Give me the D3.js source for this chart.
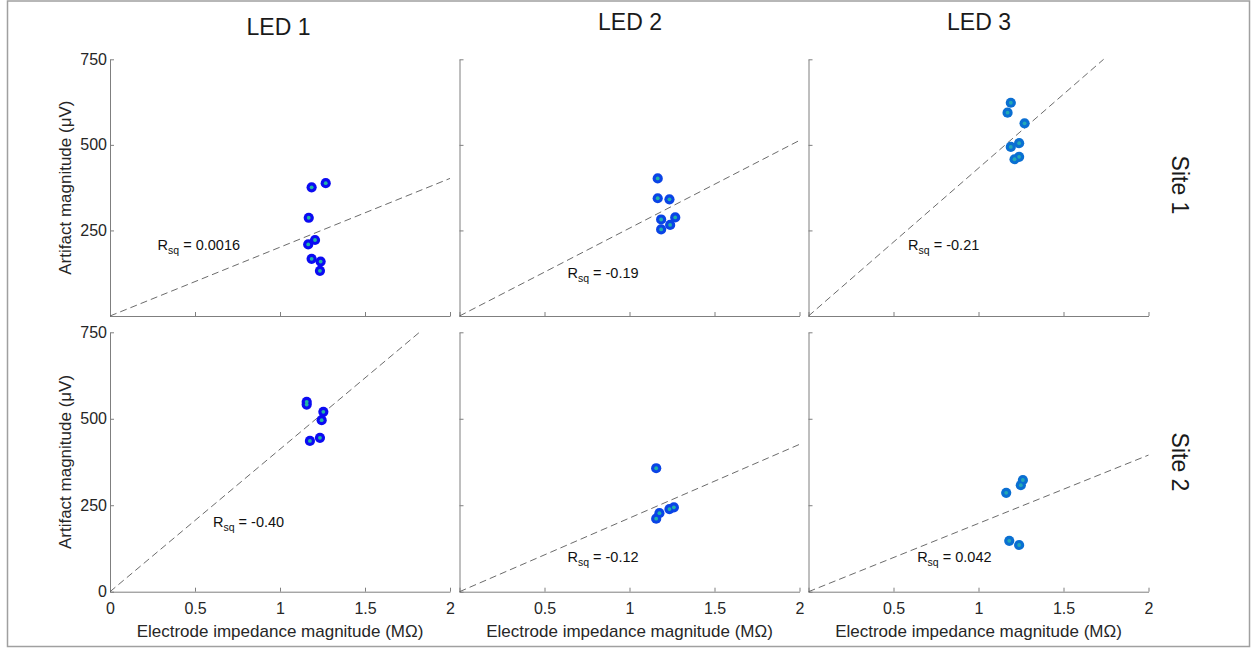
<!DOCTYPE html>
<html>
<head>
<meta charset="utf-8">
<script src="https://cdn.jsdelivr.net/npm/d3@7/dist/d3.min.js"></script>
<style>
  html, body { margin: 0; padding: 0; background: #fff; }
  svg { display: block; font-family: "Liberation Sans", Arial, sans-serif; }
</style>
</head>
<body>
<svg id="chart" width="1251" height="648"></svg>
<script>
// ---- Data ----
const ledNames = ["LED 1", "LED 2", "LED 3"];
const siteNames = ["Site 1", "Site 2"];
const xTicks = [0, 0.5, 1, 1.5, 2];
const yTicks = [0, 250, 500, 750];

// Site 1
const s1Led1Imp = [1.186, 1.269, 1.169, 1.206, 1.166, 1.186, 1.239, 1.235];
const s1Led1Art = [376, 388, 287, 222, 209, 167, 159, 132];
const s1Led2Imp = [1.166, 1.166, 1.235, 1.186, 1.269, 1.239, 1.186];
const s1Led2Art = [402, 344, 341, 282, 288, 266, 253];
const s1Led3Imp = [1.190, 1.171, 1.271, 1.239, 1.190, 1.239, 1.212];
const s1Led3Art = [623, 594, 563, 505, 494, 465, 458];
// Site 2
const s2Led1Imp = [1.157, 1.157, 1.255, 1.245, 1.235, 1.176];
const s2Led1Art = [549, 541, 520, 496, 445, 436];
const s2Led2Imp = [1.157, 1.176, 1.157, 1.235, 1.261];
const s2Led2Art = [357, 227, 211, 239, 244];
const s2Led3Imp = [1.261, 1.249, 1.163, 1.181, 1.239];
const s2Led3Art = [323, 308, 286, 147, 135];

// Fit through origin: slope (µV per MΩ)
const site1Slopes = [201, 256.5, 432];
const site2Slopes = [412, 213, 197.5];
const site1Rsq = ["0.0016", "-0.19", "-0.21"];
const site2Rsq = ["-0.40", "-0.12", "0.042"];
// Annotation anchors in data units [impedance, artifact]
const site1RsqAt = [[0.28, 193], [0.635, 111], [0.586, 193]];
const site2RsqAt = [[0.606, 187], [0.635, 86], [0.639, 86]];

// ---- Layout ----
const svg = d3.select("#chart");
const colX = [110, 459.5, 808.5];
const panelW = 340;
const rowTop = [59.3, 332.3];
const rowBot = [316, 591.7];
const ringColors = ["#0b0bf2", "#0a44e6", "#0a6fd2"];
const coreColors = ["#1fb5a5", "#1fb2a8", "#23a8b5"];
const textColor = "#262626";
const axisColor = "#7f7f7f";

// outer frame
svg.append("rect").attr("x", 7.5).attr("y", 1).attr("width", 1242).attr("height", 645.5)
  .attr("fill", "none").attr("stroke", "#a0a0a0").attr("stroke-width", 1.5);

const panels = [
  [ {imp: s1Led1Imp, art: s1Led1Art}, {imp: s1Led2Imp, art: s1Led2Art}, {imp: s1Led3Imp, art: s1Led3Art} ],
  [ {imp: s2Led1Imp, art: s2Led1Art}, {imp: s2Led2Imp, art: s2Led2Art}, {imp: s2Led3Imp, art: s2Led3Art} ]
];
const slopes = [site1Slopes, site2Slopes];
const rsq = [site1Rsq, site2Rsq];
const rsqAt = [site1RsqAt, site2RsqAt];

panels.forEach((row, r) => {
  row.forEach((p, c) => {
    const x = d3.scaleLinear().domain([0, 2]).range([colX[c], colX[c] + panelW]);
    const y = d3.scaleLinear().domain([0, 750]).range([rowBot[r], rowTop[r]]);
    const g = svg.append("g");

    // axes
    const xAxis = d3.axisBottom(x).tickValues(xTicks).tickSizeInner(-4).tickSizeOuter(0).tickPadding(11)
      .tickFormat(d => (r === 1 && !(c > 0 && d === 0)) ? d3.format("~g")(d) : "");
    const yAxis = d3.axisLeft(y).tickValues(yTicks).tickSizeInner(-4).tickSizeOuter(0).tickPadding(3)
      .tickFormat(d => (c === 0 && !(r === 0 && d === 0)) ? d : "");

    const gx = g.append("g").attr("transform", `translate(0,${rowBot[r]})`).call(xAxis);
    const gy = g.append("g").attr("transform", `translate(${colX[c]},0)`).call(yAxis);
    [gx, gy].forEach(a => {
      a.select(".domain").attr("stroke", axisColor);
      a.selectAll(".tick line").attr("stroke", axisColor);
      a.selectAll(".tick text").attr("fill", textColor).style("font-size", "16px");
    });

    // regression line through origin
    const s = slopes[r][c];
    const xEnd = Math.min(2, 750 / s);
    g.append("line")
      .attr("x1", x(0)).attr("y1", y(0))
      .attr("x2", x(xEnd)).attr("y2", y(s * xEnd))
      .attr("stroke", "#5a5a5a").attr("stroke-width", 0.9).attr("stroke-dasharray", "7,4");

    // points
    const pts = p.imp.map((v, i) => [v, p.art[i]]);
    g.selectAll("circle.ring").data(pts).join("circle").attr("class", "ring")
      .attr("cx", d => x(d[0])).attr("cy", d => y(d[1])).attr("r", 5.1)
      .attr("fill", ringColors[c]);
    g.selectAll("circle.core").data(pts).join("circle").attr("class", "core")
      .attr("cx", d => x(d[0])).attr("cy", d => y(d[1])).attr("r", 1.9)
      .attr("fill", coreColors[c]);

    // Rsq annotation
    const at = rsqAt[r][c];
    const t = g.append("text").attr("x", x(at[0])).attr("y", y(at[1]))
      .attr("fill", "#111").style("font-size", "14.5px");
    t.append("tspan").text("R");
    t.append("tspan").attr("dy", 4).style("font-size", "10.5px").text("sq");
    t.append("tspan").attr("dy", -4).text(" = " + rsq[r][c]);

    // x axis title
    if (r === 1) {
      g.append("text").attr("x", x(1)).attr("y", 637).attr("text-anchor", "middle")
        .attr("fill", textColor).style("font-size", "17px")
        .text("Electrode impedance magnitude (MΩ)");
    }
    // y axis title
    if (c === 0) {
      const cy = (rowTop[r] + rowBot[r]) / 2;
      g.append("text").attr("transform", `translate(71,${cy}) rotate(-90)`)
        .attr("text-anchor", "middle").attr("fill", textColor).style("font-size", "17px")
        .text("Artifact magnitude (μV)");
    }
  });
});

// column titles
const titleX = [278.5, 630, 979];
const titleY = [35, 30, 30];
ledNames.forEach((n, i) => {
  svg.append("text").attr("x", titleX[i]).attr("y", titleY[i]).attr("text-anchor", "middle")
    .attr("fill", "#1a1a1a").style("font-size", "23px").text(n);
});
// row titles
const siteY = [185, 462];
siteNames.forEach((n, i) => {
  svg.append("text").attr("transform", `translate(1172,${siteY[i]}) rotate(90)`)
    .attr("text-anchor", "middle").attr("fill", "#1a1a1a").style("font-size", "23px").text(n);
});
</script>
</body>
</html>
